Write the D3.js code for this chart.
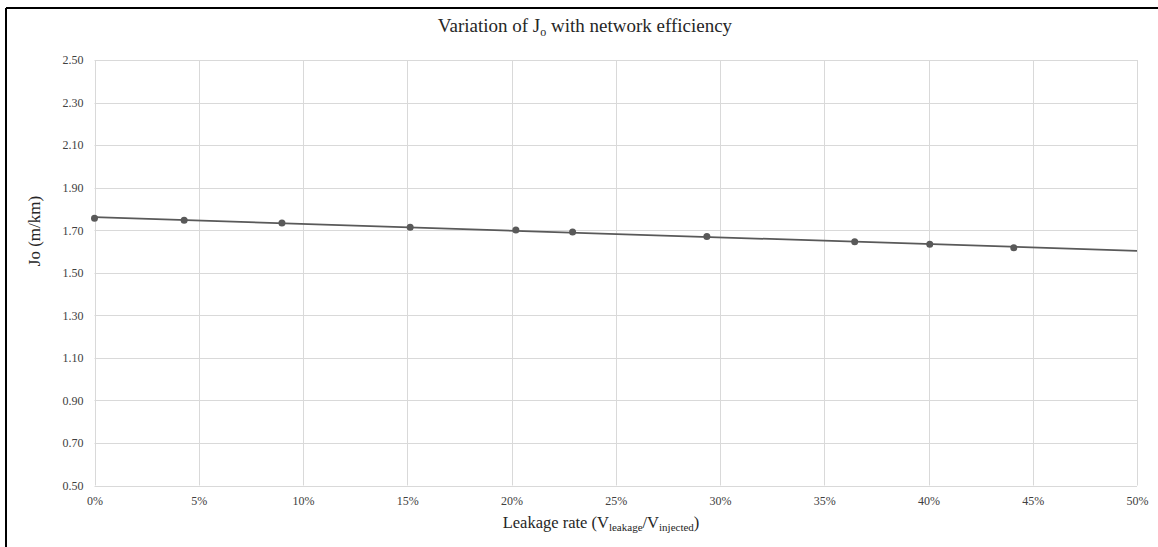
<!DOCTYPE html>
<html>
<head>
<meta charset="utf-8">
<script src="https://cdn.jsdelivr.net/npm/d3@7"></script>
<style>
  body { margin: 0; background: #fff; }
  svg text { font-family: "Liberation Serif", "DejaVu Serif", serif; }
</style>
</head>
<body>
<div id="chartArea"></div>
<script>
const leakage = [0, 4.30, 8.99, 15.14, 20.21, 22.93, 29.37, 36.46, 40.06, 44.09];
const jo = [1.756, 1.747, 1.734, 1.714, 1.701, 1.692, 1.670, 1.646, 1.634, 1.617];
const xTicks = [0, 5, 10, 15, 20, 25, 30, 35, 40, 45, 50];
const yTicks = [0.5, 0.7, 0.9, 1.1, 1.3, 1.5, 1.7, 1.9, 2.1, 2.3, 2.5];

const width = 1158, height = 547;
const serif = "'Liberation Serif', 'DejaVu Serif', serif";
const svg = d3.select("#chartArea").append("svg")
              .attr("width", width)
              .attr("height", height);

// chart frame (only top and left edges visible in the crop)
svg.append("line").attr("x1", 6).attr("x2", width).attr("y1", 8).attr("y2", 8)
   .attr("stroke", "#000").attr("stroke-width", 2);
svg.append("line").attr("x1", 6).attr("x2", 6).attr("y1", 8).attr("y2", height)
   .attr("stroke", "#000").attr("stroke-width", 2);

const x = d3.scaleLinear().domain([0, 50]).range([94.5, 1137]);
const y = d3.scaleLinear().domain([0.5, 2.5]).range([485.5, 60]);

const grid = svg.append("g").attr("class", "grid");
grid.selectAll("line.v").data(xTicks).enter().append("line")
    .attr("x1", d => Math.round(x(d)) + 0.5).attr("x2", d => Math.round(x(d)) + 0.5)
    .attr("y1", y(2.5)).attr("y2", y(0.5))
    .attr("stroke", "#d9d9d9");
grid.selectAll("line.h").data(yTicks).enter().append("line")
    .attr("x1", x(0)).attr("x2", x(50))
    .attr("y1", d => Math.round(y(d)) + 0.5).attr("y2", d => Math.round(y(d)) + 0.5)
    .attr("stroke", "#d9d9d9");

const xAxis = svg.append("g")
  .attr("transform", `translate(0,${y(0.5)})`)
  .call(d3.axisBottom(x).tickValues(xTicks).tickFormat(d => d + "%").tickSize(0).tickPadding(11));
const yAxis = svg.append("g")
  .attr("transform", `translate(${x(0)},0)`)
  .call(d3.axisLeft(y).tickValues(yTicks).tickFormat(d3.format(".2f")).tickSize(0).tickPadding(11));
[xAxis, yAxis].forEach(a => {
  a.attr("font-family", serif);
  a.select(".domain").remove();
  a.selectAll("text").style("font-family", serif).attr("font-size", 12).attr("fill", "#404040");
});

// linear trend line over the whole axis range
const mx = d3.mean(leakage), my = d3.mean(jo);
const slope = d3.sum(leakage, (d, i) => (d - mx) * (jo[i] - my)) / d3.sum(leakage, d => (d - mx) * (d - mx));
const icpt = my - slope * mx;
svg.append("line")
   .attr("x1", x(0)).attr("y1", y(icpt))
   .attr("x2", x(50)).attr("y2", y(icpt + slope * 50))
   .attr("stroke", "#595959").attr("stroke-width", 1.75);

svg.append("g").selectAll("circle")
   .data(leakage.map((d, i) => [d, jo[i]]))
   .enter().append("circle")
     .attr("cx", d => x(d[0]))
     .attr("cy", d => y(d[1]))
     .attr("r", 3.5)
     .attr("fill", "#595959");

// title with subscript
const title = svg.append("text").attr("x", 585).attr("y", 32)
   .attr("text-anchor", "middle").attr("font-size", 19).attr("fill", "#262626")
   .style("font-family", serif);
title.append("tspan").text("Variation of J");
title.append("tspan").attr("font-size", 12).attr("dy", 4).text("o");
title.append("tspan").attr("dy", -4).text(" with network efficiency");

svg.append("text")
   .attr("transform", "translate(40,231) rotate(-90)")
   .attr("text-anchor", "middle").attr("font-size", 17).attr("fill", "#262626")
   .style("font-family", serif)
   .text("Jo (m/km)");

const xl = svg.append("text").attr("x", 601).attr("y", 528)
   .attr("text-anchor", "middle").attr("font-size", 16.5).attr("fill", "#262626")
   .style("font-family", serif);
xl.append("tspan").text("Leakage rate (V");
xl.append("tspan").attr("font-size", 11).attr("dy", 3).text("leakage");
xl.append("tspan").attr("dy", -3).text("/V");
xl.append("tspan").attr("font-size", 11).attr("dy", 3).text("injected");
xl.append("tspan").attr("dy", -3).text(")");
</script>
</body>
</html>
